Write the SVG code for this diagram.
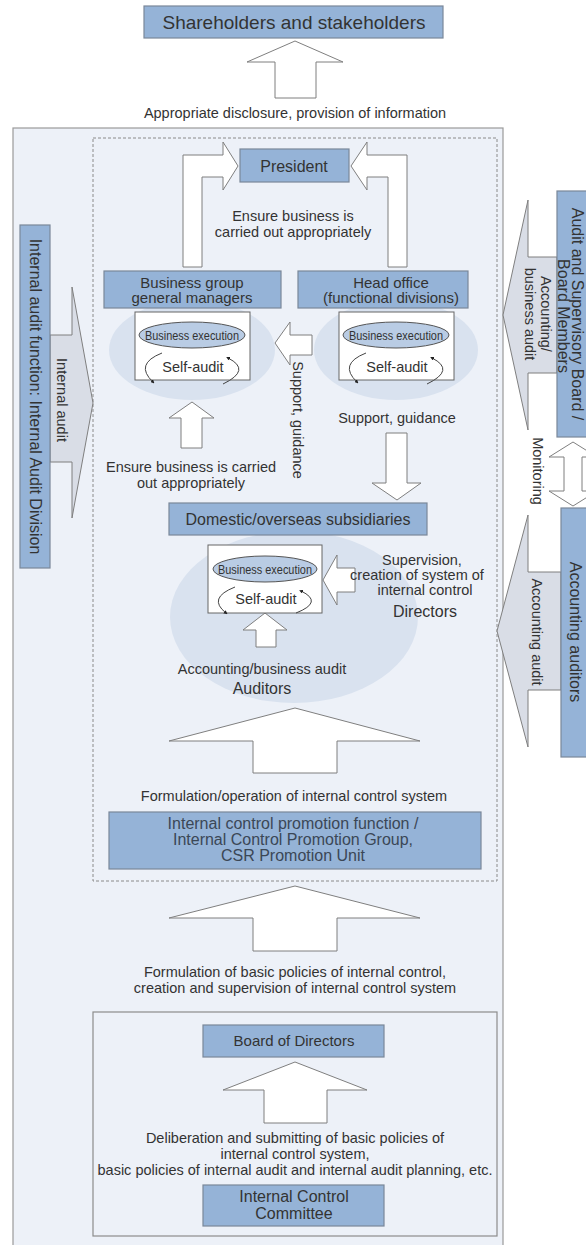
<svg xmlns="http://www.w3.org/2000/svg" width="586" height="1245" viewBox="0 0 586 1245">
<defs>
<style>
text{font-family:"Liberation Sans",Arial,sans-serif;fill:#333;}
.t{font-size:14.5px;text-anchor:middle;}
.b{font-size:16px;text-anchor:middle;}
.s{font-size:15px;text-anchor:middle;}
.box{fill:#95b3d7;stroke:#7a8799;stroke-width:1.2;}
.wa{fill:#fff;stroke:#7f7f7f;stroke-width:1;}
.sa{fill:#d9dde6;stroke:#7f7f7f;stroke-width:1;}
.bg{fill:#d9e2ef;}
.wb{fill:#fff;stroke:#666;stroke-width:1;}
.ie{fill:#b9cce4;stroke:#555;stroke-width:1;}
.arc{fill:none;stroke:#444;stroke-width:1;marker-end:url(#dot);}
.v{dominant-baseline:central;}
</style>
<marker id="dot" viewBox="0 0 6 6" refX="3" refY="3" markerWidth="4" markerHeight="4" orient="auto">
<path d="M0,0 L6,3 L0,6 Z" fill="#222"/>
</marker>
</defs>
<rect width="586" height="1245" fill="#fff"/>

<!-- panels -->
<g id="outer-panel">
<rect x="13" y="128" width="490" height="1130" fill="#edf1f8" stroke="#9a9a9a" stroke-width="1.2"/>
</g>
<g id="inner-dashed">
<rect x="93" y="138" width="404" height="743" fill="none" stroke="#8a8a8a" stroke-width="1" stroke-dasharray="3,2"/>
</g>
<g id="board-panel">
<rect x="93" y="1012" width="404" height="224" fill="#edf1f8" stroke="#8c8c8c" stroke-width="1.2"/>
</g>

<!-- background ellipses -->
<g id="ellipses">
<ellipse class="bg" cx="192" cy="350" rx="83" ry="50"/>
<ellipse class="bg" cx="396" cy="350" rx="82" ry="50"/>
<ellipse class="bg" cx="294" cy="617" rx="124" ry="86"/>
</g>

<!-- connectors -->
<g id="connectors">
<path class="wa" d="M275,98 V62 H247 L295,41 L343,62 H316 V98 Z"/>
<path class="wa" d="M183,267 V155 H223 V142 L238,166 L223,190 V177 H202 V267 Z"/>
<path class="wa" d="M407,267 V155 H367 V142 L351,166 L367,190 V177 H388 V267 Z"/>
<path class="wa" d="M312,335 H290 V322 L275,343 L290,365 V355 H312 Z"/>
<path class="wa" d="M181,448 V418 H169 L192,402 L214,418 H202 V448 Z"/>
<path class="wa" d="M386,433 V483 H372 L397,500 L421,483 H407 V433 Z"/>
<path class="wa" d="M355,568 H337 V555 L323,580 L337,605 V592 H355 Z"/>
<path class="wa" d="M256,647 V630 H243 L265,613 L287,630 H276 V647 Z"/>
<path class="wa" d="M253,773 V741 H169 L295,708 L420,741 H337 V773 Z"/>
<path class="wa" d="M253,951 V918 H169 L295,886 L420,918 H337 V951 Z"/>
<path class="wa" d="M264,1123 V1090 H223 L295,1062 L367,1090 H327 V1123 Z"/>
<path class="sa" d="M50,335 H72 V287 L93,403 L72,518 V462 H50 Z"/>
<path class="sa" d="M557,257 H528 V200 L503,315 L528,430 V373 H557 Z"/>
<path class="sa" d="M561,572 H528 V515 L497,631 L528,747 V690 H561 Z"/>
<path class="wa" d="M564,457 H549 L573,442 L597,457 H582 V491 H597 L573,506 L549,491 H564 Z"/>
</g>

<!-- connector labels -->
<g id="labels">
<text class="t" x="295" y="118">Appropriate disclosure, provision of information</text>
<text class="t" x="293" y="221">Ensure business is</text>
<text class="t" x="293" y="237">carried out appropriately</text>
<text class="t" x="191" y="472">Ensure business is carried</text>
<text class="t" x="191" y="488">out appropriately</text>
<text class="t" x="397" y="423">Support, guidance</text>
<text class="t v" transform="translate(298,420) rotate(90)">Support, guidance</text>
<text class="t" x="422" y="565">Supervision,</text>
<text class="t" x="417" y="580">creation of system of</text>
<text class="t" x="425" y="595">internal control</text>
<text class="b" x="425" y="617">Directors</text>
<text class="t" x="262" y="674">Accounting/business audit</text>
<text class="b" x="262" y="694">Auditors</text>
<text class="t" x="294" y="801">Formulation/operation of internal control system</text>
<text class="t" x="295" y="977">Formulation of basic policies of internal control,</text>
<text class="t" x="295" y="993">creation and supervision of internal control system</text>
<text class="t" x="295" y="1143">Deliberation and submitting of basic policies of</text>
<text class="t" x="295" y="1159">internal control system,</text>
<text class="t" x="295" y="1175">basic policies of internal audit and internal audit planning, etc.</text>
<text class="t v" transform="translate(62,400) rotate(90)">Internal audit</text>
<text class="t v" transform="translate(546,314) rotate(90)">Accounting/</text>
<text class="t v" transform="translate(530,314) rotate(90)">business audit</text>
<text class="t v" transform="translate(538,471) rotate(90)">Monitoring</text>
<text class="t v" transform="translate(537,632) rotate(90)">Accounting audit</text>
</g>

<!-- nodes -->
<g id="shareholders">
<rect class="box" x="144" y="6" width="299" height="32"/>
<text x="294" y="29" style="font-size:19px;text-anchor:middle">Shareholders and stakeholders</text>
</g>
<g id="president">
<rect class="box" x="240" y="149" width="109" height="33"/>
<text class="b" x="294" y="171.5">President</text>
</g>
<g id="business-group">
<rect class="box" x="104" y="271" width="177" height="37"/>
<text class="s" x="192" y="288">Business group</text>
<text class="s" x="192" y="303">general managers</text>
</g>
<g id="head-office">
<rect class="box" x="298" y="271" width="170" height="37"/>
<text class="s" x="391" y="288">Head office</text>
<text class="s" x="391" y="303">(functional divisions)</text>
</g>
<g id="bg-selfaudit">
<rect class="wb" x="135" y="312" width="115" height="68"/>
<ellipse class="ie" cx="192" cy="335" rx="53" ry="13"/>
<text x="192" y="339.5" style="font-size:13px;text-anchor:middle" textLength="94" lengthAdjust="spacingAndGlyphs">Business execution</text>
<text class="t" x="193" y="372">Self-audit</text>
<path class="arc" d="M162,353 Q134,364 153,382"/>
<path class="arc" d="M223,384 Q252,370 228,358"/>
</g>
<g id="ho-selfaudit">
<rect class="wb" x="339" y="312" width="115" height="68"/>
<ellipse class="ie" cx="396" cy="335" rx="53" ry="13"/>
<text x="396" y="339.5" style="font-size:13px;text-anchor:middle" textLength="94" lengthAdjust="spacingAndGlyphs">Business execution</text>
<text class="t" x="397" y="372">Self-audit</text>
<path class="arc" d="M366,353 Q338,364 357,382"/>
<path class="arc" d="M427,384 Q456,370 432,358"/>
</g>
<g id="subsidiaries">
<rect class="box" x="169" y="503" width="258" height="32"/>
<text class="b" x="298" y="525">Domestic/overseas subsidiaries</text>
</g>
<g id="sub-selfaudit">
<rect class="wb" x="208" y="545" width="114" height="68"/>
<ellipse class="ie" cx="265" cy="569" rx="52" ry="13"/>
<text x="265" y="573.5" style="font-size:13px;text-anchor:middle" textLength="94" lengthAdjust="spacingAndGlyphs">Business execution</text>
<text class="t" x="266" y="604">Self-audit</text>
<path class="arc" d="M235,587 Q207,598 226,613"/>
<path class="arc" d="M296,613 Q324,602 301,591"/>
</g>
<g id="promotion">
<rect class="box" x="109" y="812" width="372" height="57"/>
<text class="b" x="293" y="829" style="fill:#3b4756">Internal control promotion function /</text>
<text class="b" x="293" y="845" style="fill:#3b4756">Internal Control Promotion Group,</text>
<text class="b" x="293" y="861" style="fill:#3b4756">CSR Promotion Unit</text>
</g>
<g id="board">
<rect class="box" x="203" y="1025" width="181" height="32"/>
<text class="s" x="294" y="1046">Board of Directors</text>
</g>
<g id="committee">
<rect class="box" x="203" y="1185" width="181" height="41"/>
<text class="b" x="294" y="1202">Internal Control</text>
<text class="b" x="294" y="1219">Committee</text>
</g>
<g id="internal-audit-division">
<rect class="box" x="20" y="225" width="30" height="343"/>
<text class="b v" transform="translate(35,396.5) rotate(90)">Internal audit function: Internal Audit Division</text>
</g>
<g id="audit-board">
<rect class="box" x="557" y="191" width="50" height="246"/>
<text class="b v" transform="translate(577,314) rotate(90)">Audit and Supervisory Board /</text>
<text class="b v" transform="translate(563,316) rotate(90)">Board Members</text>
</g>
<g id="accounting-auditors">
<rect class="box" x="561" y="508" width="45" height="249"/>
<text class="b v" transform="translate(575,632) rotate(90)">Accounting auditors</text>
</g>
</svg>
